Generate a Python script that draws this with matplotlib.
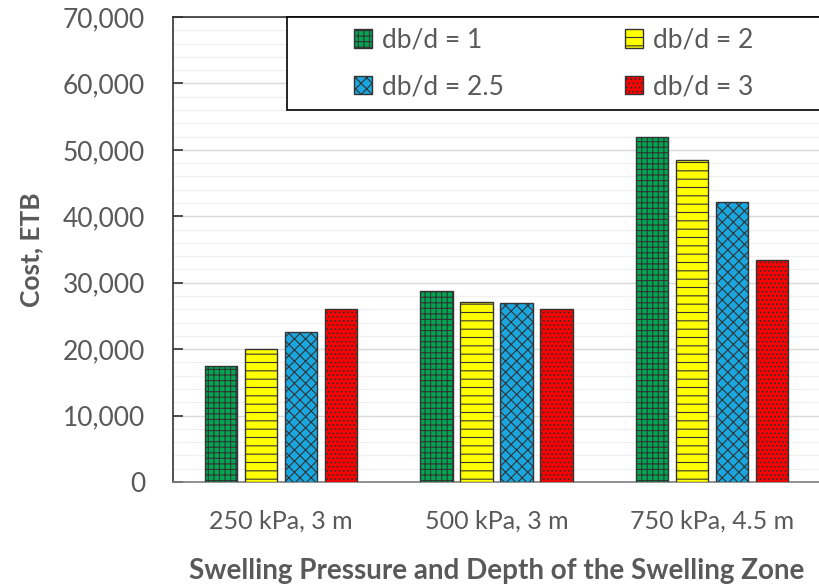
import numpy as np
import matplotlib.pyplot as plt
from matplotlib.patches import Rectangle
from matplotlib.ticker import FuncFormatter, MultipleLocator

plt.rcParams['font.family'] = ['Lato', 'DejaVu Sans']
plt.rcParams['hatch.linewidth'] = 0.8

# data
categories = ["250 kPa, 3 m", "500 kPa, 3 m", "750 kPa, 4.5 m"]
series_names = ["db/d = 1", "db/d = 2", "db/d = 2.5", "db/d = 3"]
cost_db1 = [17500, 28800, 52000]
cost_db2 = [20000, 27100, 48400]
cost_db25 = [22600, 26900, 42100]
cost_db3 = [26000, 26000, 33400]

colors = ["#00A651", "#FFFF00", "#1AA7E0", "#FF0000"]
hatches = ["+++", "--", "xxx", "...."]

gray = "#595959"
fig = plt.figure(figsize=(8.2, 5.87), dpi=100)
ax = fig.add_axes([0.211, 0.179, 0.789, 0.792])

x = np.arange(len(categories))
w = 0.15
step = 0.185
all_series = [cost_db1, cost_db2, cost_db25, cost_db3]
bars = []
for k, (vals, name) in enumerate(zip(all_series, series_names)):
    b = ax.bar(x + (k - 1.5) * step, vals, width=w, color=colors[k], hatch=hatches[k],
               edgecolor="#333333", linewidth=1.0, label=name, zorder=3)
    bars.append(b)

ax.set_xlim(-0.5, 2.5)
ax.set_ylim(0, 70000)
ax.yaxis.set_major_locator(MultipleLocator(10000))
ax.yaxis.set_minor_locator(MultipleLocator(2000))
ax.yaxis.set_major_formatter(FuncFormatter(lambda v, p: f"{int(v):,}"))
ax.grid(axis="y", which="major", color="#d9d9d9", linewidth=1.0, zorder=0)
ax.grid(axis="y", which="minor", color="#f0f0f0", linewidth=1.0, zorder=0)
ax.set_axisbelow(True)

ax.set_xticks(x)
ax.set_xticklabels(categories)
ax.tick_params(axis="x", which="both", length=0, labelsize=18, colors=gray, pad=20)
ax.tick_params(axis="y", which="major", direction="in", length=7, width=1.2,
               color="#333333", labelsize=19, labelcolor=gray, pad=20)
ax.tick_params(axis="y", which="minor", length=0)

ax.spines["right"].set_visible(False)
for s in ["left", "top"]:
    ax.spines[s].set_color("#333333")
    ax.spines[s].set_linewidth(1.2)
ax.spines["bottom"].set_color("#7f7f7f")
ax.spines["bottom"].set_linewidth(1.2)

ax.set_ylabel("Cost, ETB", fontsize=19, fontweight="bold", color=gray, labelpad=14)
ax.set_xlabel("Swelling Pressure and Depth of the Swelling Zone", fontsize=20,
              fontweight="bold", color=gray, labelpad=18)

# legend frame drawn separately, legend entries centred inside it
ax.add_patch(Rectangle((0.176, 0.8), 0.824, 0.2, transform=ax.transAxes,
                       facecolor="white", edgecolor="black", linewidth=1.2,
                       zorder=4, clip_on=False))
order = [0, 2, 1, 3]
leg = ax.legend([bars[i] for i in order], [series_names[i] for i in order],
                loc="center", ncol=2, bbox_to_anchor=(0.588, 0.9),
                fontsize=19, frameon=False, handlelength=0.7, handleheight=0.7,
                handletextpad=0.35, labelspacing=0.8, columnspacing=4.6)
leg.set_zorder(5)
for t in leg.get_texts():
    t.set_color(gray)

fig.savefig("out.png", dpi=100)
